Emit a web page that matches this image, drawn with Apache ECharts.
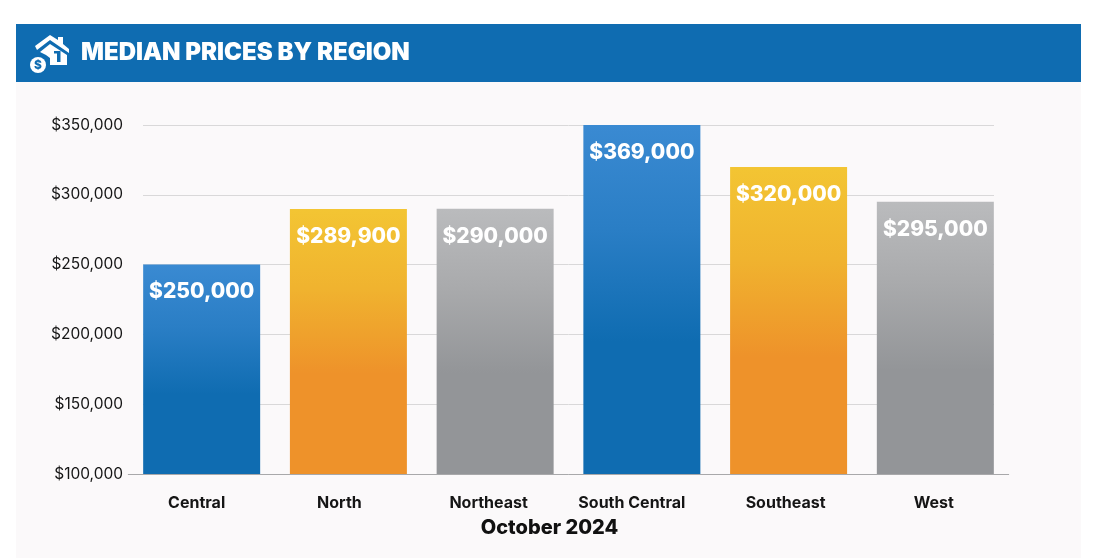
<!DOCTYPE html>
<html><head><meta charset="utf-8">
<style>html,body{margin:0;padding:0;background:#fff}#c{width:1106px;height:558px}</style>
<script src="https://cdn.jsdelivr.net/npm/echarts@6/dist/echarts.min.js"></script>
</head><body><div id="c"></div>
<script>
const categories = ['Central','North','Northeast','South Central','Southeast','West'];
const prices = [250000,289900,290000,369000,320000,295000];
const priceLabels = ['$250,000','$289,900','$290,000','$369,000','$320,000','$295,000'];
const axisMin = 100000, axisMax = 350000, axisStep = 50000;
const titleText = 'MEDIAN PRICES BY REGION';
const xTitle = 'October 2024';
const blue = ['#3A8AD2','#2A7EC5','#0F6CB1'];
const orange = ['#F3C533','#F0B32F','#EE922A'];
const grey = ['#BABBBD','#A9AAAC','#939598'];
const palette = [blue,orange,grey,blue,orange,grey];
const labelNudge = [-5,-9,-6.5,-10,-3,-1.5];
const labelFont = 'Inter, "Liberation Sans", sans-serif';
const fill = c => ({type:'linear',x:0,y:0,x2:0,y2:1,colorStops:[{offset:0,color:c[0]},{offset:.3,color:c[1]},{offset:.62,color:c[2]},{offset:1,color:c[2]}]});
const money = v => '$' + v.toLocaleString('en-US');
const chart = echarts.init(document.getElementById('c'),null,{renderer:'canvas'});
chart.setOption({
 animation:false,
 backgroundColor:'#fff',
 graphic:{elements:[
  {type:'rect',z:-10,silent:true,shape:{x:16,y:24,width:1065,height:534},style:{fill:'#FBF9FA'}},
  {type:'rect',z:-9,silent:true,shape:{x:16,y:24,width:1065,height:58},style:{fill:'#0F6CB1'}},
  {type:'text',z:5,x:81,y:53,style:{text:titleText,fill:'#fff',font:'900 24px Inter, sans-serif',textVerticalAlign:'middle'}},
  {type:'text',z:5,x:549.5,y:528,style:{text:xTitle,fill:'#111',font:'800 20px Inter, sans-serif',textAlign:'center',textVerticalAlign:'middle'}},
  {type:'polygon',z:5,shape:{points:[[35,46],[50,35],[58,40],[58,37],[63,37],[63,44],[69,49],[69,53],[50,40],[37,50]]},style:{fill:'#fff'}},
  {type:'polygon',z:5,shape:{points:[[40,52],[50,44],[67,55],[67,65],[50,65],[50,58],[46,55]]},style:{fill:'#fff'}},
  {type:'circle',z:6,shape:{cx:38,cy:65,r:9.5},style:{fill:'#0F6CB1'}},
  {type:'circle',z:7,shape:{cx:38,cy:65,r:8},style:{fill:'#fff'}},
  {type:'text',z:8,x:38,y:65.5,style:{text:'$',fill:'#0F6CB1',font:'800 12px Inter, sans-serif',textAlign:'center',textVerticalAlign:'middle'}},
  {type:'rect',z:7,shape:{x:57,y:51,width:3.5,height:11},style:{fill:'#0F6CB1'}},
  {type:'rect',z:7,shape:{x:54,y:51,width:3,height:2.5},style:{fill:'#0F6CB1'}}
 ]},
 grid:[
  {left:143,right:112,top:125,bottom:84},
  {left:128.3,right:97.3,top:125,bottom:84}
 ],
 xAxis:[
  {gridIndex:0,type:'category',data:categories,show:false},
  {gridIndex:1,type:'category',
   data:categories.map((c,i)=>({value:c,textStyle:{padding:[0,-2*labelNudge[i],0,0]}})),
   axisLine:{show:true,lineStyle:{color:'#A8A8AA',width:1}},axisTick:{show:false},
   axisLabel:{color:'#151515',fontFamily:labelFont,fontWeight:700,fontSize:16,margin:21,interval:0}}
 ],
 yAxis:[
  {gridIndex:0,type:'value',min:axisMin,max:axisMax,interval:axisStep,
   axisLine:{show:false},axisTick:{show:false},
   axisLabel:{formatter:money,color:'#151515',fontFamily:labelFont,fontSize:15.5,margin:20},
   splitLine:{show:true,lineStyle:{color:'#D9D8D9',width:1}}},
  {gridIndex:1,type:'value',min:axisMin,max:axisMax,interval:axisStep,show:false,splitLine:{show:false}}
 ],
 series:[{
  type:'bar',xAxisIndex:1,yAxisIndex:1,barWidth:117,clip:true,
  data:prices.map((v,i)=>({value:v,itemStyle:{color:fill(palette[i])}})),
  label:{show:true,position:'insideTop',distance:17,
   formatter:p=>priceLabels[p.dataIndex],color:'#fff',fontFamily:labelFont,fontWeight:800,fontSize:21}
 }]
});
</script></body></html>
